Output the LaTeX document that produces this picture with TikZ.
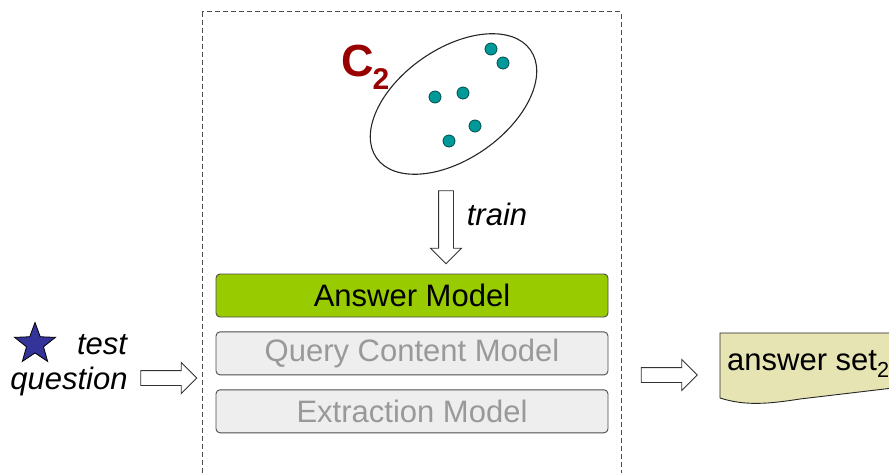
\documentclass[tikz,border=0pt]{standalone}
\usepackage{fontspec}
\setmainfont{Liberation Sans}
\usetikzlibrary{shapes.geometric, shapes.arrows, positioning}

\definecolor{answergreen}{HTML}{99CC00}
\definecolor{idlegray}{HTML}{EEEEEE}
\definecolor{idletext}{HTML}{999999}
\definecolor{dotfill}{HTML}{009999}
\definecolor{dotline}{HTML}{004C4C}
\definecolor{ctwored}{HTML}{990000}
\definecolor{starblue}{HTML}{333399}
\definecolor{docfill}{HTML}{E6E4B3}

\begin{document}
\begin{tikzpicture}[
    x=1pt, y=1pt,
    model/.style={rectangle, draw=black!70, line width=0.9pt, rounded corners=4pt, minimum width=392pt, minimum height=43pt, font=\fontsize{31}{36}\selectfont},
    idle/.style={model, fill=idlegray, text=idletext},
    dot/.style={circle, draw=dotline, line width=0.8pt, fill=dotfill, minimum size=12pt, inner sep=0pt},
    blockarrow/.style={single arrow, draw=black!80, line width=0.9pt, fill=white, inner xsep=0pt, inner ysep=7pt, single arrow head extend=8pt},
    note/.style={font=\fontsize{31}{36}\selectfont\itshape, inner sep=0pt},
]

\clip (0,0) rectangle (889,472);

% dashed frame round the model
\draw[black!70, line width=1pt, dash pattern=on 5pt off 3pt] (202,460) rectangle (621,-10);

% training cluster
\node[ellipse, draw=black!85, line width=1.1pt, minimum width=188pt, minimum height=110pt, inner sep=0pt, rotate=35] (cluster) at (453.5,368) {};
\foreach \x/\y [count=\i] in {491/423, 503/409, 435/375, 463/379, 475/346, 449/331}
    \node[dot] (d\i) at (\x,\y) {};
\node[text=ctwored, font=\fontsize{45}{50}\selectfont\bfseries, inner sep=0pt, anchor=base west] (ctwo) at (341,395)
    {C\kern-1pt\raisebox{-13pt}{\fontsize{30}{34}\selectfont 2}};

% train
\node[blockarrow, minimum height=73pt, rotate=-90] (trainarrow) at (446,248.5) {};
\node[note] (train) at (497,258) {train};

% models
\node[model, fill=answergreen] (answer) at (412,176.5) {Answer Model};
\node[idle, below=14pt of answer] (query) {Query Content Model};
\node[idle, below=14pt of query] (extract) {Extraction Model};

% input
\node[star, star points=5, star point ratio=2.4, draw=black, line width=0.8pt, fill=starblue, minimum size=43pt, inner sep=0pt] (star) at (35,128) {};
\node[note] (test) at (102,127) {test};
\node[note] (question) at (69,91) {question};
\node[blockarrow, minimum height=56pt] (inarrow) at (165,94) {};

% output
\node[blockarrow, minimum height=56pt] (outarrow) at (665.5,97) {};
\draw[black!85, line width=0.9pt, fill=docfill] (720,139) -- (910,139) -- (910,86)
    -- (800,73) .. controls (768,68) and (745,66) .. (720,74) -- cycle;
\node[font=\fontsize{31}{36}\selectfont, inner sep=0pt, anchor=west] (answers) at (727,108) {answer set\textsubscript{2}};

\end{tikzpicture}
\end{document}
